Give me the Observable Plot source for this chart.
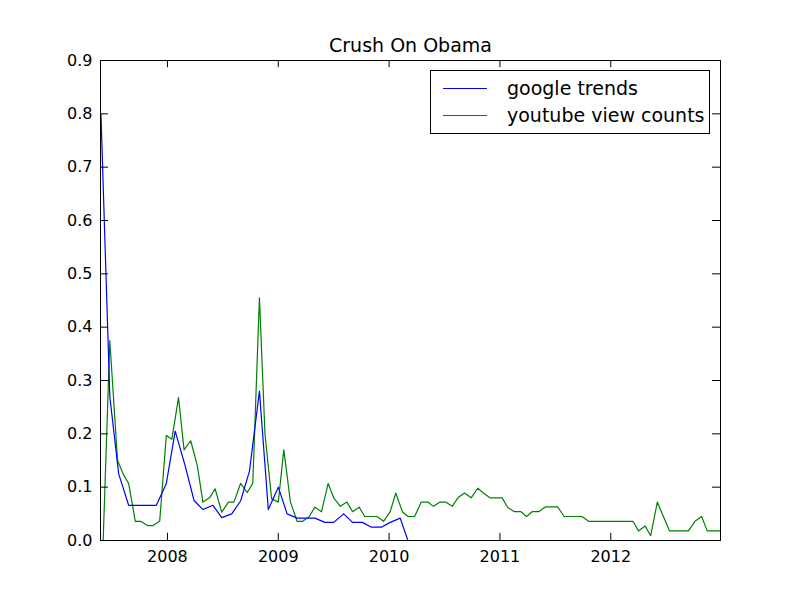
<!DOCTYPE html>
<html>
<head>
<meta charset="utf-8">
<script src="https://cdn.jsdelivr.net/npm/d3@7"></script>
<script src="https://cdn.jsdelivr.net/npm/@observablehq/plot@0.6"></script>
<style>
  body { margin: 0; background: #fff; font-family: "DejaVu Sans", sans-serif; }
  #wrap { position: relative; width: 800px; height: 600px; }
  #legend { position: absolute; left: 430px; top: 70px; width: 278px; height: 62px;
            border: 1px solid #000; background: #fff; font-size: 19px; }
  .row { position: absolute; left: 12px; height: 22px; display: flex; align-items: center; }
  .sw { width: 44px; height: 0; border-top: 1.3px solid; margin-right: 20px; }
</style>
</head>
<body>
<div id="wrap">
  <div id="chart"></div>
  <div id="legend">
    <div class="row" style="top:6px"><span class="sw" style="border-color:#0000ff"></span>google trends</div>
    <div class="row" style="top:33px"><span class="sw" style="border-color:#008000"></span>youtube view counts</div>
  </div>
</div>
<script>
// google trends, roughly monthly (decimal year, value)
var trendYears = [2007.40, 2007.48, 2007.56, 2007.65, 2007.73, 2007.81, 2007.90, 2007.99, 2008.07, 2008.16,
  2008.24, 2008.32, 2008.41, 2008.49, 2008.58, 2008.66, 2008.74, 2008.83, 2008.91, 2009.00,
  2009.08, 2009.17, 2009.25, 2009.33, 2009.42, 2009.50, 2009.59, 2009.67, 2009.76, 2009.84,
  2009.93, 2010.01, 2010.10, 2010.17, 2010.26, 2010.35];
var trendValues = [0.80, 0.27, 0.125, 0.066, 0.066, 0.066, 0.066, 0.107, 0.205, 0.14,
  0.075, 0.058, 0.066, 0.043, 0.05, 0.074, 0.13, 0.28, 0.058, 0.10,
  0.05, 0.042, 0.042, 0.042, 0.034, 0.034, 0.05, 0.034, 0.034, 0.025,
  0.025, 0.034, 0.042, 0, 0, 0];

// youtube view counts
var viewYears = [2007.40, 2007.42, 2007.48, 2007.55, 2007.60, 2007.65, 2007.71, 2007.76, 2007.82, 2007.87,
  2007.93, 2007.99, 2008.04, 2008.10, 2008.15, 2008.21, 2008.27, 2008.32, 2008.38, 2008.43,
  2008.49, 2008.55, 2008.60, 2008.66, 2008.72, 2008.77, 2008.83, 2008.88, 2008.94, 2009.00,
  2009.05, 2009.11, 2009.17, 2009.22, 2009.28, 2009.33, 2009.39, 2009.45, 2009.50, 2009.56,
  2009.62, 2009.67, 2009.73, 2009.78, 2009.84, 2009.89, 2009.95, 2010.01, 2010.06, 2010.12,
  2010.17, 2010.23, 2010.29, 2010.35, 2010.40, 2010.46, 2010.51, 2010.57, 2010.62, 2010.68,
  2010.74, 2010.80, 2010.85, 2010.91, 2010.96, 2011.02, 2011.07, 2011.13, 2011.19, 2011.24,
  2011.29, 2011.35, 2011.41, 2011.47, 2011.52, 2011.58, 2011.63, 2011.69, 2011.74, 2011.80,
  2011.86, 2011.91, 2011.97, 2012.03, 2012.08, 2012.14, 2012.20, 2012.25, 2012.31, 2012.36,
  2012.42, 2012.53, 2012.59, 2012.64, 2012.70, 2012.76, 2012.82, 2012.87, 2012.93, 2012.99];
var viewValues = [0, 0, 0.375, 0.15, 0.125, 0.107, 0.036, 0.036, 0.028, 0.028,
  0.036, 0.197, 0.19, 0.268, 0.17, 0.187, 0.14, 0.072, 0.08, 0.097,
  0.053, 0.072, 0.072, 0.107, 0.09, 0.107, 0.455, 0.2, 0.078, 0.072,
  0.17, 0.072, 0.036, 0.036, 0.045, 0.0625, 0.054, 0.107, 0.08, 0.064,
  0.072, 0.054, 0.0625, 0.045, 0.045, 0.045, 0.036, 0.054, 0.089, 0.054,
  0.045, 0.045, 0.072, 0.072, 0.064, 0.072, 0.072, 0.064, 0.08, 0.089,
  0.08, 0.098, 0.089, 0.08, 0.08, 0.08, 0.062, 0.054, 0.054, 0.045,
  0.054, 0.054, 0.063, 0.063, 0.063, 0.045, 0.045, 0.045, 0.045, 0.036,
  0.036, 0.036, 0.036, 0.036, 0.036, 0.036, 0.036, 0.018, 0.027, 0.009,
  0.072, 0.018, 0.018, 0.018, 0.018, 0.036, 0.045, 0.018, 0.018, 0.018];

var xTicks = [2008, 2009, 2010, 2011, 2012];
var yTicks = [0, 0.1, 0.2, 0.3, 0.4, 0.5, 0.6, 0.7, 0.8, 0.9];
var xDomain = [2007.396, 2012.99];

var trends = trendYears.map(function (t, i) { return {t: t, v: trendValues[i]}; });
var views = viewYears.map(function (t, i) { return {t: t, v: viewValues[i]}; });

var tx = 0.072, ty = 0.0135; // inward tick lengths in data units (~8px)

var plot = Plot.plot({
  width: 800, height: 600,
  marginLeft: 100, marginRight: 80, marginTop: 60, marginBottom: 60,
  style: {fontFamily: "DejaVu Sans, sans-serif", fontSize: "16px", color: "#000", background: "#fff"},
  x: {domain: xDomain, ticks: xTicks, tickFormat: d3.format("d")},
  y: {domain: [0, 0.9], ticks: yTicks, tickFormat: d3.format(".1f")},
  marks: [
    Plot.axisX({ticks: xTicks, tickFormat: d3.format("d"), tickSize: 0, tickPadding: 10, label: null, fontSize: 16}),
    Plot.axisY({ticks: yTicks, tickFormat: d3.format(".1f"), tickSize: 0, tickPadding: 8, label: null, fontSize: 16}),
    Plot.line(views, {x: "t", y: "v", stroke: "#008000", strokeWidth: 1.2}),
    Plot.line(trends, {x: "t", y: "v", stroke: "#0000ff", strokeWidth: 1.2}),
    Plot.ruleX(xTicks, {x: function (d) { return d; }, y1: 0, y2: ty, stroke: "#000"}),
    Plot.ruleX(xTicks, {x: function (d) { return d; }, y1: 0.9 - ty, y2: 0.9, stroke: "#000"}),
    Plot.ruleY(yTicks, {y: function (d) { return d; }, x1: xDomain[0], x2: xDomain[0] + tx, stroke: "#000"}),
    Plot.ruleY(yTicks, {y: function (d) { return d; }, x1: xDomain[1] - tx, x2: xDomain[1], stroke: "#000"}),
    Plot.frame({stroke: "#000", strokeWidth: 1}),
    Plot.text(["Crush On Obama"], {frameAnchor: "top", dy: -22, fontSize: 19, fill: "#000"})
  ]
});
document.getElementById("chart").appendChild(plot);
</script>
</body>
</html>
